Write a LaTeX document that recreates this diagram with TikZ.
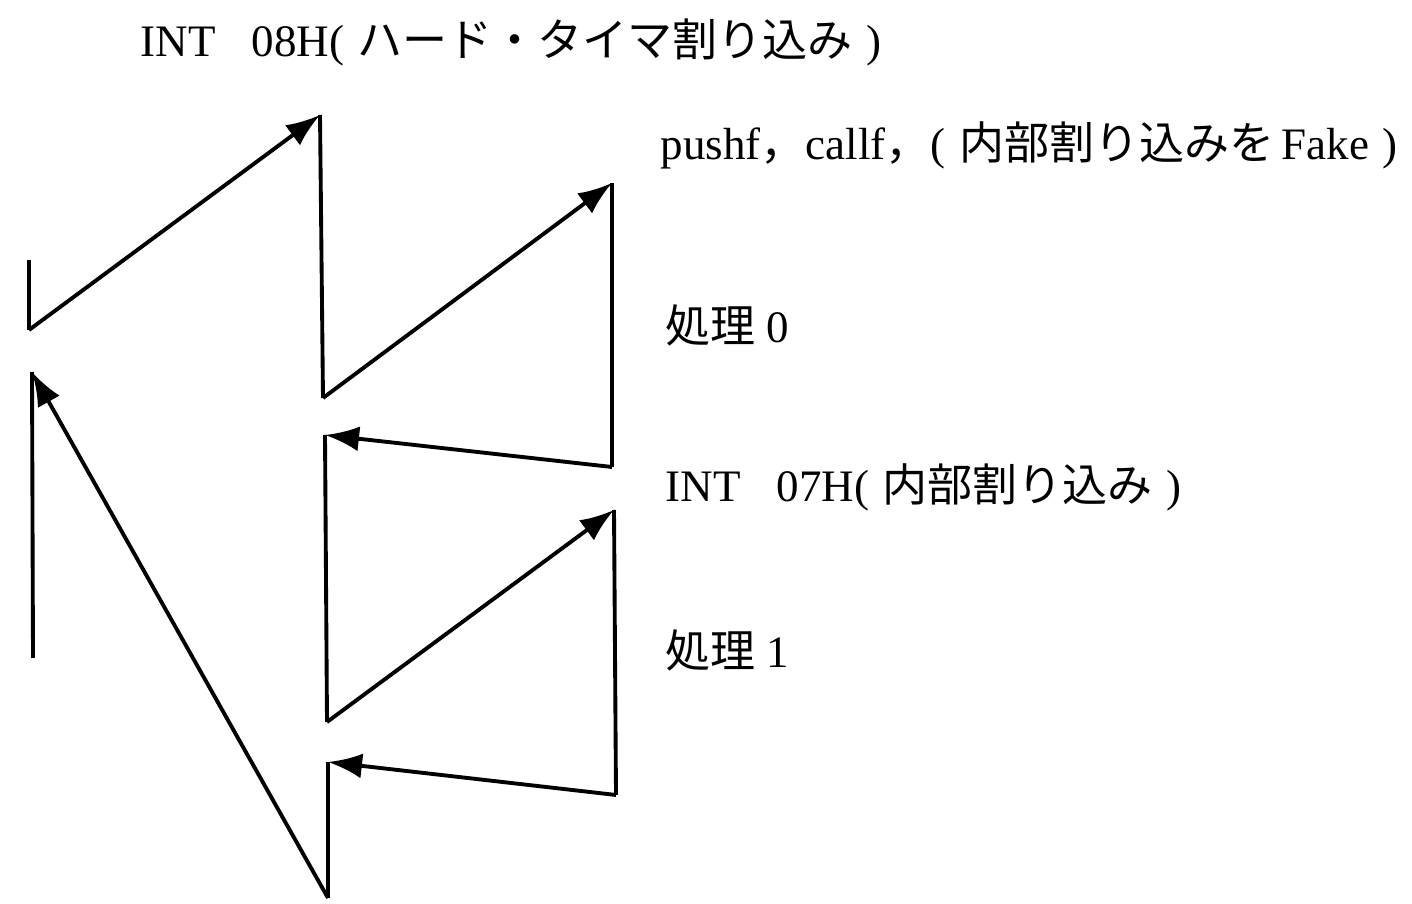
\documentclass[tikz,border=0pt]{standalone}
\usepackage{fontspec}
\setmainfont{Liberation Serif}
\newfontfamily\jpfont{Noto Sans CJK JP}
\newcommand{\jp}[1]{{\jpfont #1}}
\newcommand{\pgap}{\hspace{0.3em}}
\usetikzlibrary{arrows.meta}
\tikzset{
  flow/.style={line width=1.1pt, line join=miter},
  lbl/.style={anchor=west, inner sep=0pt, font=\fontsize{12.8pt}{15pt}\selectfont},
}

\begin{document}
\begin{tikzpicture}[x=0.01cm, y=-0.01cm, >={Latex[length=3.4mm,width=2.5mm]}]
  \useasboundingbox (0,0) rectangle (1412,904);

  % main program
  \coordinate (m0) at (29,260);
  \coordinate (m1) at (29,330);
  \coordinate (m2) at (32,372);
  \coordinate (m3) at (33,658);

  % INT 08H handler
  \coordinate (t0) at (320,115);
  \coordinate (t1) at (323,398);
  \coordinate (t2) at (325,435);
  \coordinate (t3) at (327,722);
  \coordinate (t4) at (328,762);
  \coordinate (t5) at (328,898);

  % INT 07H handler
  \coordinate (i0) at (612,183);
  \coordinate (i1) at (612,467);
  \coordinate (i2) at (614,510);
  \coordinate (i3) at (616,795);

  \draw[flow] (m0) -- (m1);
  \draw[flow,->] (m1) -- (t0);
  \draw[flow] (t0) -- (t1);
  \draw[flow,->] (t1) -- (i0);
  \draw[flow] (i0) -- (i1);
  \draw[flow,->] (i1) -- (t2);
  \draw[flow] (t2) -- (t3);
  \draw[flow,->] (t3) -- (i2);
  \draw[flow] (i2) -- (i3);
  \draw[flow,->] (i3) -- (t4);
  \draw[flow] (t4) -- (t5);
  \draw[flow,->] (t5) -- (m2);
  \draw[flow] (m2) -- (m3);

  % labels
  \node[lbl] (int8) at (140,42) {INT\hspace{0.8em}08H(\pgap\jp{ハード・タイマ割り込み}\pgap)};
  \node[lbl] (fake) at (660,145) {pushf\jp{，}callf\jp{，}(\pgap\jp{内部割り込みを}\,Fake\pgap)};
  \node[lbl] (proc0) at (665,325) {\jp{処理} 0};
  \node[lbl] (int7) at (665,487) {INT\hspace{0.8em}07H(\pgap\jp{内部割り込み}\pgap)};
  \node[lbl] (proc1) at (665,650) {\jp{処理} 1};
\end{tikzpicture}
\end{document}
